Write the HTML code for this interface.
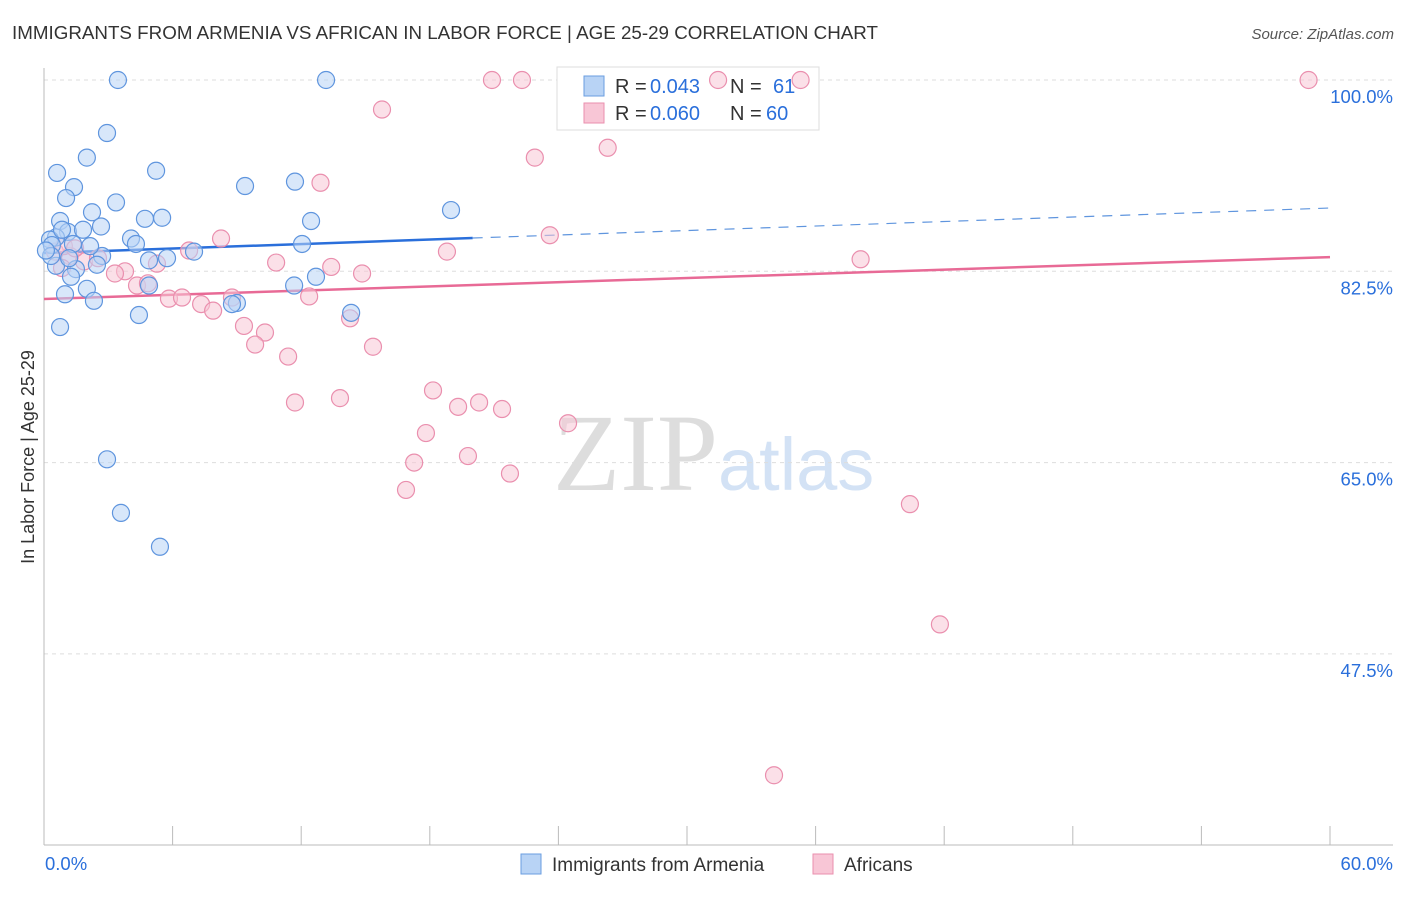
<!DOCTYPE html>
<html><head><meta charset="utf-8">
<style>
body{margin:0;background:#fff;font-family:"Liberation Sans",sans-serif;}
svg text{font-family:"Liberation Sans",sans-serif;}
</style></head>
<body>
<svg id="chart" width="1406" height="892" xmlns="http://www.w3.org/2000/svg">
<text x="12" y="39" font-size="18.5" fill="#333" textLength="866" lengthAdjust="spacingAndGlyphs">IMMIGRANTS FROM ARMENIA VS AFRICAN IN LABOR FORCE | AGE 25-29 CORRELATION CHART</text>
<text x="1394" y="39" font-size="15" fill="#555" text-anchor="end" font-style="italic">Source: ZipAtlas.com</text>
<g>
<text x="553" y="490" font-size="110" fill="#ddd" style="font-family:'Liberation Serif',serif">ZIP</text>
<text x="718" y="490" font-size="74" fill="#d3e2f5">atlas</text>
</g>
<g id="grid"></g>
<g id="axes"></g>
<g>
<rect x="557" y="67" width="262" height="63" fill="#fff" stroke="#ddd"/>
<rect x="584" y="76" width="20" height="20" fill="#b8d3f5" stroke="#6a9ee0"/>
<text x="615" y="93" font-size="20" fill="#333">R =</text>
<text x="650" y="93" font-size="20" fill="#2a6fdb">0.043</text>
<text x="730" y="93" font-size="20" fill="#333">N =</text>
<text x="773" y="93" font-size="20" fill="#2a6fdb">61</text>
<rect x="584" y="103" width="20" height="20" fill="#f8c6d6" stroke="#ea8fae"/>
<text x="615" y="120" font-size="20" fill="#333">R =</text>
<text x="650" y="120" font-size="20" fill="#2a6fdb">0.060</text>
<text x="730" y="120" font-size="20" fill="#333">N =</text>
<text x="766" y="120" font-size="20" fill="#2a6fdb">60</text>
</g>
<g id="trends"></g>
<g id="points"></g>
<text transform="translate(34,457) rotate(-90)" font-size="18" fill="#333" text-anchor="middle">In Labor Force | Age 25-29</text>
<g>
<rect x="521" y="854" width="20" height="20" fill="#b8d3f5" stroke="#6a9ee0"/>
<text x="552" y="871" font-size="19" fill="#333">Immigrants from Armenia</text>
<rect x="813" y="854" width="20" height="20" fill="#f8c6d6" stroke="#ea8fae"/>
<text x="844" y="871" font-size="19" fill="#333">Africans</text>
</g>
</svg>
<script>
const yTicks=[100,82.5,65,47.5];
const yTickLabels=["100.0%","82.5%","65.0%","47.5%"];
const xTicks=[0,6,12,18,24,30,36,42,48,54,60];
const xEndLabels=["0.0%","60.0%"];
const blueX=[3.45,13.16,2.94,0.61,2.0,5.23,1.40,1.03,3.36,2.24,0.75,2.66,4.71,5.51,9.38,11.71,12.46,18.99,4.06,4.29,1.12,0.56,0.28,0.37,0.84,1.35,1.82,7.0,5.74,4.90,2.71,2.47,1.49,0.56,0.33,12.04,12.69,11.67,1.26,2.0,0.98,2.33,4.90,9.0,8.77,14.33,4.43,0.75,2.94,3.59,5.41,1.17,2.15,0.09];
const blueY=[100,100,95.15,91.5,92.9,91.7,90.2,89.2,88.8,87.9,87.1,86.6,87.3,87.4,90.3,90.7,87.1,88.1,85.5,85.0,86.1,85.6,85.4,84.9,86.3,85.0,86.3,84.3,83.7,83.5,83.9,83.1,82.7,83.0,83.9,85.0,82.0,81.2,82.0,80.9,80.4,79.8,81.2,79.6,79.5,78.7,78.5,77.4,65.3,60.4,57.3,83.7,84.8,84.4];
const pinkX=[20.9,22.3,31.45,35.3,59.0,15.77,26.3,22.9,12.9,23.6,18.8,38.1,8.26,6.77,10.83,13.4,14.84,5.27,3.78,3.31,4.34,4.85,5.83,6.44,7.33,7.89,8.77,12.37,9.33,10.31,9.85,14.28,15.35,11.39,11.71,13.81,18.15,19.32,20.30,21.37,24.45,17.82,17.27,19.78,21.74,16.89,40.4,41.8,34.06,1.21,1.87,2.52,0.51,0.93,1.45,0.84];
const pinkY=[100,100,100,100,100,97.3,93.8,92.9,90.6,85.8,84.3,83.6,85.5,84.4,83.3,82.9,82.3,83.2,82.5,82.3,81.2,81.4,80.0,80.1,79.5,78.9,80.1,80.2,77.5,76.9,75.8,78.2,75.6,74.7,70.5,70.9,71.6,70.1,70.5,69.9,68.6,67.7,65.0,65.6,64.0,62.5,61.2,50.2,36.4,83.9,83.4,83.7,84.3,84.8,84.6,82.8];
const blueTrend=[84.17,88.29];
const pinkTrend=[79.97,83.8];
const blueSolidEnd=20;

const NS="http://www.w3.org/2000/svg";
const L=44,R=1330,T=80,B=845;
const xs=v=>L+(v/60)*(R-L);
const ys=v=>T+(100-v)/17.5*191.3;
function mk(tag,attrs,parent){const e=document.createElementNS(NS,tag);for(const k in attrs)e.setAttribute(k,attrs[k]);parent.appendChild(e);return e;}
const grid=document.getElementById('grid'),axes=document.getElementById('axes'),trends=document.getElementById('trends'),pts=document.getElementById('points');
yTicks.forEach((t,i)=>{
 const g=mk('line',{x1:L,x2:1393,y1:ys(t),y2:ys(t),stroke:'#ddd','stroke-dasharray':'4,4'},grid);
 
 
 const tx=mk('text',{x:1393,y:ys(t)+23,'font-size':18.5,fill:'#2a6fdb','text-anchor':'end'},axes);
 tx.textContent=yTickLabels[i];
 
 
});
const ya=mk('line',{x1:L,x2:L,y1:68,y2:B,stroke:'#bbb'},axes);


const xa=mk('line',{x1:L,x2:1393,y1:B,y2:B,stroke:'#bbb'},axes);


xTicks.forEach(t=>{
 const tk=mk('line',{x1:xs(t),x2:xs(t),y1:826,y2:B,stroke:'#bbb'},axes);
 
 
});
const xl0=mk('text',{x:45,y:870,'font-size':18.5,fill:'#2a6fdb'},axes);xl0.textContent=xEndLabels[0];


const xl1=mk('text',{x:1393,y:870,'font-size':18.5,fill:'#2a6fdb','text-anchor':'end'},axes);xl1.textContent=xEndLabels[1];



function pt(x,y,fill,stroke,name){
 const c=mk('circle',{cx:xs(x),cy:ys(y),r:8.5,fill:fill,'fill-opacity':0.55,stroke:stroke,'stroke-width':1.2},pts);
 
 
}
pinkX.forEach((x,i)=>pt(x,pinkY[i],'#f8c6d6','#ea8fae','africans-point'));
blueX.forEach((x,i)=>pt(x,blueY[i],'#b8d3f5','#5f95de','armenia-point'));

const bAt=x=>blueTrend[0]+(blueTrend[1]-blueTrend[0])*x/60;
const pAt=x=>pinkTrend[0]+(pinkTrend[1]-pinkTrend[0])*x/60;
const b1=mk('line',{x1:xs(0),y1:ys(bAt(0)),x2:xs(blueSolidEnd),y2:ys(bAt(blueSolidEnd)),stroke:'#2a6fdb','stroke-width':2.5},trends);


const b2=mk('line',{x1:xs(blueSolidEnd),y1:ys(bAt(blueSolidEnd)),x2:xs(60),y2:ys(bAt(60)),stroke:'#5f95de','stroke-width':1.2,'stroke-dasharray':'10,8'},trends);


const p1=mk('line',{x1:xs(0),y1:ys(pAt(0)),x2:xs(60),y2:ys(pAt(60)),stroke:'#e86a96','stroke-width':2.5},trends);


</script>
</body></html>
